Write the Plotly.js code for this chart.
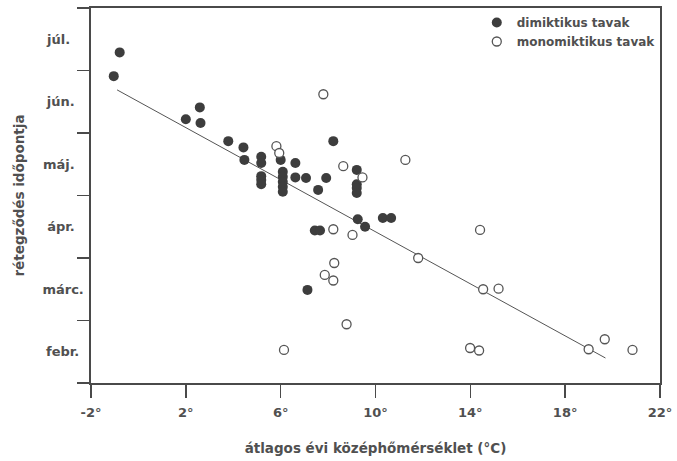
<!DOCTYPE html>
<html>
<head>
<meta charset="utf-8">
<script src="https://cdn.plot.ly/plotly-3.0.1.min.js"></script>
<style>html,body{margin:0;padding:0;background:#fff;}#chart{width:677px;height:461px;}</style>
</head>
<body>
<div id="chart"></div>
<script>
// month scale: integer = middle of the month (2 = febr. ... 7 = júl.)
const monthVals = [2, 3, 4, 5, 6, 7];
const monthLabels = ["febr.\u00a0", "márc.", "ápr.\u00a0\u00a0", "máj.\u00a0\u00a0", "jún.\u00a0\u00a0", "júl.\u00a0\u00a0\u00a0"];
const xTickVals = [-2, 2, 6, 10, 14, 18, 22];
const xTickText = ["-2°", "2°", "6°", "10°", "14°", "18°", "22°"];

// dimiktikus tavak (filled)
const dimiX = [-0.79, -1.04, 2.0, 2.59, 2.62, 3.79, 4.43, 4.47,
  5.18, 5.18, 5.18, 5.18, 5.18,
  6.0, 6.09, 6.09, 6.09, 6.09, 6.09,
  6.62, 6.62, 7.07, 7.58, 7.92, 8.22,
  9.21, 9.21, 9.21, 9.21,
  9.25, 9.56, 10.31, 10.66, 7.44, 7.66, 7.13];
const dimiY = [6.79, 6.41, 5.72, 5.91, 5.66, 5.37, 5.27, 5.07,
  5.12, 5.02, 4.81, 4.75, 4.68,
  5.07, 4.88, 4.80, 4.72, 4.64, 4.56,
  5.02, 4.79, 4.78, 4.59, 4.78, 5.37,
  4.91, 4.68, 4.62, 4.54,
  4.12, 4.00, 4.14, 4.14, 3.94, 3.94, 2.99];

// monomiktikus tavak (open)
const monoX = [7.80, 5.82, 5.94, 8.64, 9.45, 11.26, 8.22, 9.03, 8.26, 7.86, 8.22,
  8.78, 6.14, 14.41, 11.80, 14.54, 15.19, 13.99, 14.37, 18.99, 19.67, 20.84];
const monoY = [6.12, 5.29, 5.18, 4.97, 4.79, 5.07, 3.96, 3.87, 3.42, 3.23, 3.14,
  2.44, 2.03, 3.95, 3.50, 3.00, 3.01, 2.06, 2.02, 2.04, 2.20, 2.03];

// regression line
const fitX = [-0.9, 19.7];
const fitY = [6.19, 1.90];

const ink = "#4a4a4a";
const textCol = "#505050";
const fontFam = "DejaVu Sans, Verdana, sans-serif";

const traces = [
  {x: fitX, y: fitY, mode: "lines", line: {color: "#555", width: 1}, showlegend: false, hoverinfo: "skip"},
  {x: dimiX, y: dimiY, mode: "markers", name: "dimiktikus tavak",
   marker: {size: 10, color: "#3d3d3d", line: {color: "#3d3d3d", width: 0}}},
  {x: monoX, y: monoY, mode: "markers", name: "monomiktikus tavak",
   marker: {size: 9, color: "#ffffff", line: {color: "#555", width: 1.3}}}
];

const layout = {
  width: 677, height: 461,
  margin: {l: 91, r: 17, t: 8, b: 78},
  paper_bgcolor: "#fff", plot_bgcolor: "#fff",
  font: {family: fontFam, size: 13, color: textCol, weight: "bold"},
  showlegend: true,
  legend: {x: 0.678, y: 1.0, xanchor: "left", yanchor: "top", bgcolor: "rgba(0,0,0,0)",
    font: {family: fontFam, size: 12, color: textCol, weight: "bold"}, tracegroupgap: 0},
  xaxis: {
    range: [-2, 22], tickvals: xTickVals, ticktext: xTickText,
    showgrid: false, zeroline: false, showline: true, mirror: true,
    linecolor: ink, linewidth: 1.6, ticks: "outside", ticklen: 13, tickwidth: 1.6, tickcolor: ink,
    tickfont: {family: fontFam, size: 13, color: textCol, weight: "bold"},
    ticklabelstandoff: 4,
    title: {text: "átlagos évi középhőmérséklet (°C)", standoff: 24,
      font: {family: fontFam, size: 13.5, color: textCol, weight: "bold"}}
  },
  yaxis: {
    range: [1.5, 7.5], tickvals: monthVals, ticktext: monthLabels,
    showgrid: false, zeroline: false, showline: true, mirror: true,
    linecolor: ink, linewidth: 1.6, ticks: "",
    minor: {tick0: 1.5, dtick: 1, ticks: "outside", ticklen: 12, tickwidth: 1.6, tickcolor: ink, showgrid: false},
    tickfont: {family: fontFam, size: 13, color: textCol, weight: "bold"},
    ticklabelstandoff: 3,
    title: {text: "rétegződés időpontja", standoff: 14,
      font: {family: fontFam, size: 13.5, color: textCol, weight: "bold"}}
  }
};

Plotly.newPlot("chart", traces, layout, {displayModeBar: false, staticPlot: true});
</script>
</body>
</html>
